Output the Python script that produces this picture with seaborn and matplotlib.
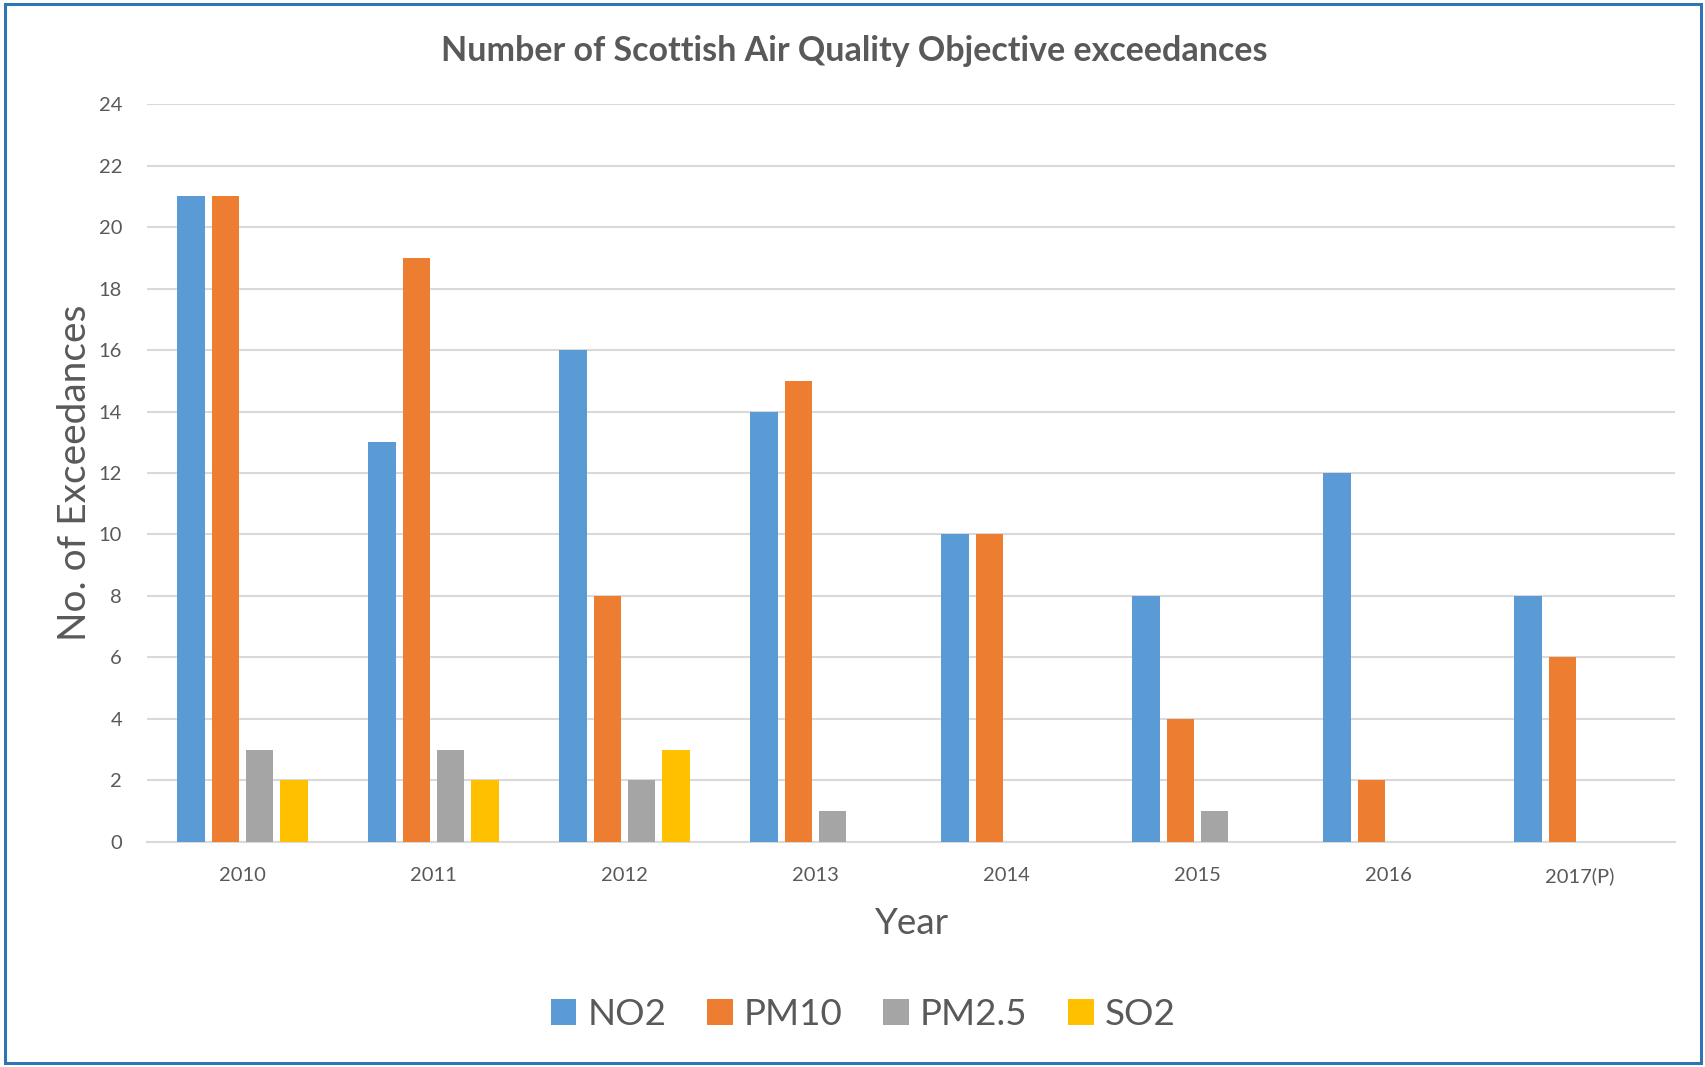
import matplotlib
matplotlib.use("Agg")
import matplotlib.pyplot as plt
import seaborn as sns
import pandas as pd
from matplotlib.patches import Rectangle, Patch

years = ["2010", "2011", "2012", "2013", "2014", "2015", "2016", "2017(P)"]
no2 = [21, 13, 16, 14, 10, 8, 12, 8]
pm10 = [21, 19, 8, 15, 10, 4, 2, 6]
pm25 = [3, 3, 2, 1, 0, 1, 0, 0]
so2 = [2, 2, 3, 0, 0, 0, 0, 0]
series_names = ["NO2", "PM10", "PM2.5", "SO2"]
colors = ["#5B9BD5", "#ED7D31", "#A5A5A5", "#FFC000"]

rows = []
for name, vals in zip(series_names, [no2, pm10, pm25, so2]):
    for y, v in zip(years, vals):
        rows.append({"Year": y, "Pollutant": name, "Count": v})
df = pd.DataFrame(rows)

sns.set_style("white")
plt.rcParams["font.family"] = ["Lato", "DejaVu Sans"]
text_c = "#595959"

fig = plt.figure(figsize=(17.06, 10.67), dpi=100)
ax = fig.add_axes([0.0862, 0.2109, 0.8956, 0.6916])

sns.barplot(data=df, x="Year", y="Count", hue="Pollutant", order=years,
            hue_order=series_names, palette=colors, saturation=1, width=0.72, gap=0.2,
            linewidth=0, errorbar=None, ax=ax, legend=False, zorder=3)

ax.set_ylim(0, 24)
ax.set_yticks(range(0, 25, 2))
ax.grid(axis="y", color="#D9D9D9", linewidth=1.5, zorder=0)
ax.set_axisbelow(True)
for s in ["left", "right", "top"]:
    ax.spines[s].set_visible(False)
ax.spines["bottom"].set_color("#D9D9D9")
ax.spines["bottom"].set_linewidth(1.5)
ax.tick_params(axis="both", length=0, labelsize=14.5, labelcolor=text_c)
ax.tick_params(axis="x", pad=18)
ax.tick_params(axis="y", pad=18)

ax.set_xlabel("Year", fontsize=26.5, color=text_c, labelpad=16)
ax.set_ylabel("No. of Exceedances", fontsize=28, color=text_c, labelpad=4)

fig.text(0.5005, 0.952, "Number of Scottish Air Quality Objective exceedances",
         ha="center", va="center", fontsize=24.5, fontweight="bold", color=text_c)

handles = [Patch(facecolor=c, edgecolor="none", label=n) for n, c in zip(series_names, colors)]
fig.legend(handles=handles, loc="center", bbox_to_anchor=(0.506, 0.049), ncol=4,
           frameon=False, fontsize=26.5, handlelength=0.7, handleheight=0.7,
           handletextpad=0.3, columnspacing=1.1, labelcolor=text_c)

fig.patches.append(Rectangle((0.003, 0.004), 0.994, 0.992, transform=fig.transFigure,
                             fill=False, edgecolor="#2E75B6", linewidth=2.2))

fig.savefig("out.png", dpi=100, facecolor="white")
